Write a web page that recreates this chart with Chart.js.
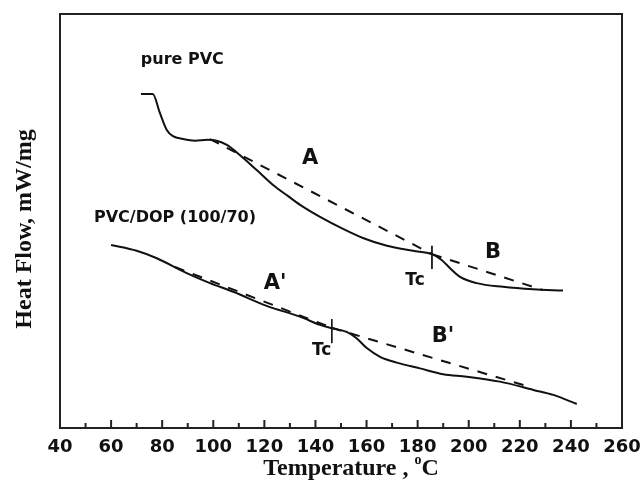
<!DOCTYPE html>
<html>
<head>
<meta charset="utf-8">
<script src="https://cdn.jsdelivr.net/npm/chart.js@4"></script>
<style>
  html, body { margin: 0; padding: 0; background: #fff; }
  canvas { display: block; }
</style>
</head>
<body>
<canvas id="myChart" width="640" height="489"></canvas>
<script>
// DSC curves, temperature in °C, heat flow in arbitrary units
const pvcTemp = [71.7, 76.3, 79.1, 81.8, 84.2, 88.2, 92.8, 97.9, 101.3, 105.3, 110.5, 117.0, 123.4, 129.3, 134.0, 141.8, 150.8, 158.6, 168.0, 178.2, 185.6, 189.4, 192.7, 196.6, 203.1, 213.4, 225.2, 236.9];
const pvcFlow = [80.7, 80.7, 76.1, 72.0, 70.5, 69.8, 69.4, 69.6, 69.4, 68.4, 65.9, 62.3, 58.7, 56.0, 53.9, 51.0, 48.1, 45.9, 44.0, 42.8, 42.0, 40.6, 38.6, 36.5, 35.0, 34.1, 33.5, 33.2];

const dopTemp = [60.0, 70.0, 77.9, 89.6, 98.7, 107.8, 120.9, 133.9, 141.8, 146.4, 152.2, 156.1, 160.1, 165.3, 171.8, 180.9, 190.0, 199.2, 212.2, 225.3, 233.1, 242.3];
const dopFlow = [44.2, 42.8, 41.0, 37.4, 35.0, 32.9, 29.5, 26.9, 24.9, 24.1, 23.2, 21.7, 19.3, 17.2, 15.8, 14.4, 13.0, 12.4, 11.2, 9.2, 8.0, 5.8];

// dashed baselines A, B, A', B'
const baseATemp = [98.7, 185.6];
const baseAFlow = [69.8, 42.0];
const baseBTemp = [185.6, 229.1];
const baseBFlow = [42.0, 33.3];
const baseA2Temp = [85.0, 146.4];
const baseA2Flow = [38.9, 24.2];
const baseB2Temp = [146.4, 224.0];
const baseB2Flow = [24.2, 9.9];

// Tc markers
const tcTemp = [185.6, 146.4];
const tcTop = [44.0, 26.3];
const tcBottom = [38.4, 20.5];

// text labels placed in data coordinates
const noteText = ['pure PVC', 'PVC/DOP (100/70)', 'A', 'B', "A'", "B'", 'Tc', 'Tc'];
const noteX = [87.9, 85.0, 137.9, 209.5, 124.2, 189.9, 179.0, 142.4];
const noteY = [88.9, 50.7, 65.2, 42.3, 35.0, 22.0, 35.5, 18.8];
const noteSize = [16, 16, 21, 21, 21, 21, 17, 17];

const xTicks = [40, 60, 80, 100, 120, 140, 160, 180, 200, 220, 240, 260];

const sans = '"DejaVu Sans", Verdana, sans-serif';
const serif = '"Liberation Serif", "Times New Roman", serif';

const toPoints = (xs, ys) => xs.map((v, i) => ({ x: v, y: ys[i] }));

const solid = (xs, ys) => ({
  data: toPoints(xs, ys),
  borderColor: '#111',
  borderWidth: 2,
  pointRadius: 0,
  cubicInterpolationMode: 'monotone',
  fill: false
});
const dashed = (xs, ys) => ({
  data: toPoints(xs, ys),
  borderColor: '#111',
  borderWidth: 2,
  borderDash: [10, 9],
  pointRadius: 0,
  tension: 0,
  fill: false
});
const thin = (i) => ({
  data: [{ x: tcTemp[i], y: tcTop[i] }, { x: tcTemp[i], y: tcBottom[i] }],
  borderColor: '#111',
  borderWidth: 1,
  pointRadius: 0,
  fill: false
});

const framePlugin = {
  id: 'frame',
  afterDraw(chart) {
    const { ctx, chartArea: a, scales: { x, y } } = chart;
    ctx.save();
    ctx.strokeStyle = '#222';
    ctx.lineWidth = 2;
    ctx.strokeRect(a.left, a.top, a.right - a.left, a.bottom - a.top);

    // ticks pointing into the plot
    for (let v = xTicks[0]; v <= xTicks[xTicks.length - 1]; v += 10) {
      const px = x.getPixelForValue(v);
      const len = xTicks.includes(v) ? 8 : 5;
      ctx.beginPath();
      ctx.moveTo(px, a.bottom);
      ctx.lineTo(px, a.bottom - len);
      ctx.stroke();
    }

    ctx.fillStyle = '#111';
    ctx.textAlign = 'center';
    ctx.textBaseline = 'middle';
    noteText.forEach((t, i) => {
      ctx.font = 'bold ' + noteSize[i] + 'px ' + sans;
      ctx.fillText(t, x.getPixelForValue(noteX[i]), y.getPixelForValue(noteY[i]));
    });

    // axis titles
    ctx.font = 'bold 24px ' + serif;
    ctx.save();
    ctx.translate(25, 229);
    ctx.rotate(-Math.PI / 2);
    ctx.fillText('Heat Flow, mW/mg', 0, 0);
    ctx.restore();

    const part1 = 'Temperature , ';
    const part3 = 'C';
    const w1 = ctx.measureText(part1).width;
    const w3 = ctx.measureText(part3).width;
    ctx.font = 'bold 14px ' + serif;
    const w2 = ctx.measureText('o').width;
    const total = w1 + w2 + w3;
    const sx = (a.left + a.right) / 2 + 10 - total / 2;
    const ty = 469;
    ctx.textAlign = 'left';
    ctx.font = 'bold 24px ' + serif;
    ctx.fillText(part1, sx, ty);
    ctx.font = 'bold 14px ' + serif;
    ctx.fillText('o', sx + w1, ty - 9);
    ctx.font = 'bold 24px ' + serif;
    ctx.fillText(part3, sx + w1 + w2, ty);
    ctx.restore();
  }
};

const ctx = document.getElementById('myChart').getContext('2d');
const myChart = new Chart(ctx, {
  type: 'line',
  data: {
    datasets: [
      solid(pvcTemp, pvcFlow),
      solid(dopTemp, dopFlow),
      dashed(baseATemp, baseAFlow),
      dashed(baseBTemp, baseBFlow),
      dashed(baseA2Temp, baseA2Flow),
      dashed(baseB2Temp, baseB2Flow),
      thin(0),
      thin(1)
    ]
  },
  options: {
    responsive: false,
    animation: false,
    layout: { padding: { left: 60, top: 14, right: 18, bottom: 0 } },
    plugins: {
      legend: { display: false },
      tooltip: { enabled: false }
    },
    scales: {
      x: {
        type: 'linear',
        min: 40,
        max: 260,
        afterBuildTicks: (scale) => { scale.ticks = xTicks.map(v => ({ value: v })); },
        afterFit: (scale) => {
          scale.height = 61;
          scale.paddingLeft = 0;
          scale.paddingRight = 0;
        },
        grid: { display: false, drawTicks: false },
        border: { display: false },
        ticks: {
          autoSkip: false,
          maxRotation: 0,
          padding: 9,
          color: '#111',
          font: { family: sans, size: 18, weight: 'bold' }
        }
      },
      y: {
        display: false,
        min: 0,
        max: 100
      }
    }
  },
  plugins: [framePlugin]
});
</script>
</body>
</html>
